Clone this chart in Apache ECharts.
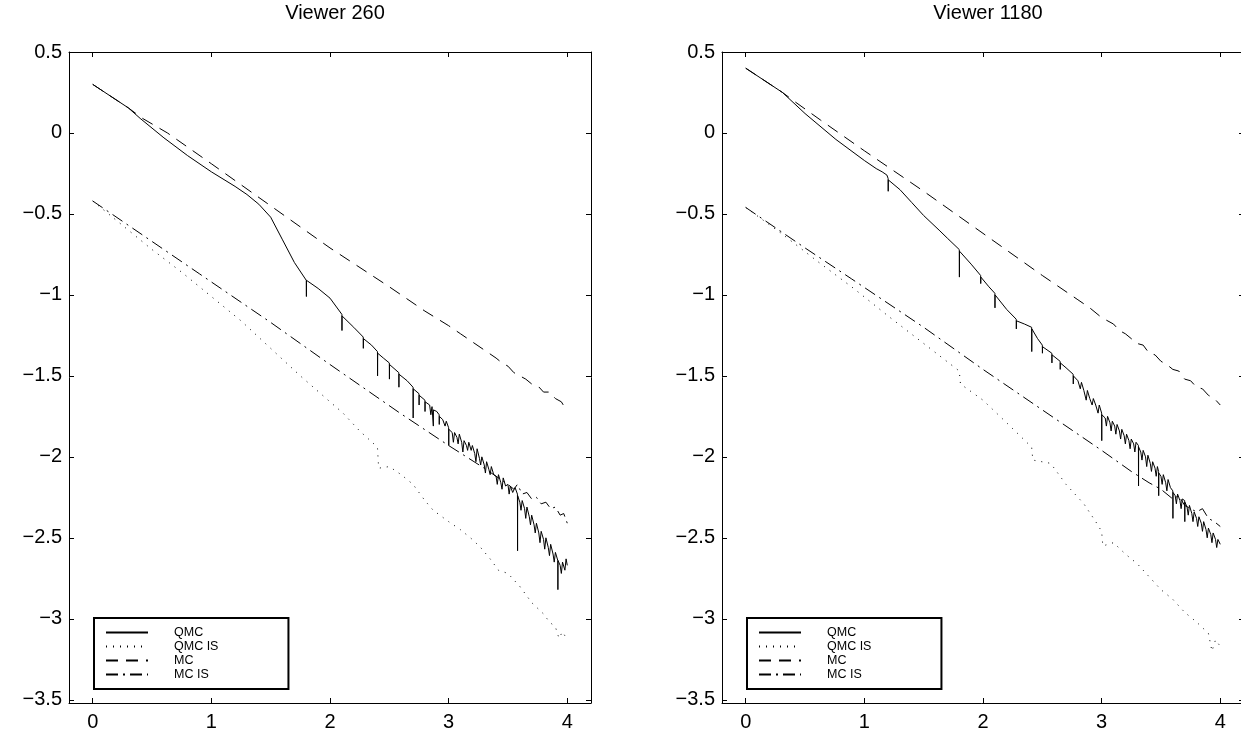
<!DOCTYPE html>
<html>
<head>
<meta charset="utf-8">
<title>Viewer 260 / Viewer 1180</title>
<script src="https://cdn.jsdelivr.net/npm/echarts@6.0.0/dist/echarts.min.js"></script>
<style>
  html, body { margin: 0; padding: 0; background: #fff; }
  #chart { width: 1241px; height: 735px; }
</style>
</head>
<body>
<div id="chart"></div>
<script>
// panel titles and tick labels
const panelTitles = ['Viewer 260', 'Viewer 1180']
const legendNames = ['QMC', 'QMC IS', 'MC', 'MC IS']
const xTicks = [0, 1, 2, 3, 4]
const yTicks = [0.5, 0, -0.5, -1, -1.5, -2, -2.5, -3, -3.5]

// left panel (viewer 260), [x, y]
const qmcLeft = [
  [0, 0.30], [0.3, 0.155], [0.4, 0.09], [0.5, 0.03], [0.6, -0.03], [0.8, -0.14], [1.0, -0.24],
  [1.2, -0.33], [1.3, -0.38], [1.4, -0.44], [1.5, -0.52], [1.6, -0.66], [1.7, -0.80],
  [1.8, -0.91], [1.801, -1.01], [1.802, -0.91], [1.9, -0.96], [2.0, -1.02],
  [2.1, -1.12], [2.101, -1.22], [2.102, -1.13], [2.2, -1.20],
  [2.28, -1.26], [2.281, -1.33], [2.282, -1.27], [2.35, -1.31],
  [2.4, -1.35], [2.401, -1.50], [2.402, -1.36], [2.45, -1.39],
  [2.5, -1.42], [2.501, -1.52], [2.502, -1.43], [2.58, -1.48], [2.581, -1.57], [2.582, -1.49],
  [2.65, -1.53], [2.7, -1.57], [2.701, -1.76], [2.702, -1.58], [2.75, -1.61], [2.751, -1.68], [2.752, -1.62],
  [2.8, -1.65], [2.801, -1.72], [2.802, -1.66], [2.84, -1.68], [2.85, -1.74], [2.86, -1.69],
  [2.87, -1.70], [2.871, -1.81], [2.872, -1.71], [2.9, -1.72], [2.92, -1.74], [2.921, -1.80], [2.922, -1.75],
  [2.95, -1.77], [2.97, -1.81], [2.98, -1.78], [3.0, -1.82], [3.001, -1.93], [3.002, -1.83],
  [3.03, -1.85], [3.04, -1.91], [3.05, -1.85], [3.07, -1.88], [3.08, -1.92], [3.09, -1.86],
  [3.11, -1.91], [3.12, -1.97], [3.13, -1.90], [3.15, -1.93], [3.16, -1.96], [3.17, -1.91],
  [3.19, -1.96], [3.2, -1.93], [3.22, -1.98], [3.23, -2.03], [3.24, -1.95], [3.26, -2.01],
  [3.27, -2.05], [3.28, -2.00], [3.3, -2.05], [3.31, -2.10], [3.32, -2.03], [3.34, -2.08],
  [3.35, -2.11], [3.36, -2.06], [3.38, -2.11], [3.4, -2.12], [3.41, -2.17], [3.42, -2.11],
  [3.44, -2.16], [3.45, -2.20], [3.46, -2.13], [3.48, -2.18], [3.5, -2.17], [3.51, -2.23],
  [3.52, -2.18], [3.54, -2.22], [3.56, -2.19], [3.58, -2.23], [3.581, -2.58], [3.582, -2.24],
  [3.6, -2.28], [3.61, -2.33], [3.62, -2.27], [3.64, -2.32], [3.65, -2.38], [3.66, -2.31],
  [3.68, -2.37], [3.69, -2.42], [3.7, -2.36], [3.72, -2.42], [3.73, -2.47], [3.74, -2.41],
  [3.76, -2.47], [3.77, -2.53], [3.78, -2.46], [3.8, -2.51], [3.81, -2.57], [3.82, -2.50],
  [3.84, -2.56], [3.85, -2.61], [3.86, -2.54], [3.88, -2.60], [3.89, -2.65], [3.9, -2.59],
  [3.92, -2.64], [3.921, -2.82], [3.922, -2.64], [3.94, -2.67], [3.95, -2.72], [3.96, -2.65],
  [3.98, -2.70], [3.99, -2.63], [4.0, -2.67]
]
const qmcIsLeft = [
  [0, -0.42], [0.25, -0.57], [0.5, -0.72], [0.75, -0.86], [1.0, -1.01], [1.25, -1.16],
  [1.5, -1.33], [1.75, -1.50], [2.0, -1.66], [2.11, -1.73], [2.25, -1.84], [2.4, -1.94],
  [2.41, -2.07], [2.5, -2.06], [2.6, -2.11], [2.7, -2.17], [2.8, -2.27], [2.87, -2.33],
  [3.0, -2.40], [3.1, -2.45], [3.2, -2.51], [3.27, -2.56], [3.35, -2.63], [3.42, -2.70],
  [3.5, -2.72], [3.6, -2.80], [3.7, -2.90], [3.8, -2.97], [3.85, -3.02], [3.9, -3.05],
  [3.93, -3.12], [3.96, -3.08], [4.0, -3.13]
]
const mcLeft = [
  [0, 0.30], [0.3, 0.155], [0.42, 0.09], [0.63, 0.0], [1.0, -0.19], [1.5, -0.45], [2.0, -0.71],
  [2.5, -0.95], [2.8, -1.10], [3.0, -1.19], [3.1, -1.24], [3.2, -1.29], [3.3, -1.34], [3.4, -1.39],
  [3.45, -1.42], [3.5, -1.44], [3.55, -1.48], [3.6, -1.50], [3.65, -1.52], [3.7, -1.55],
  [3.75, -1.56], [3.8, -1.60], [3.85, -1.60], [3.9, -1.64], [3.95, -1.66], [4.0, -1.72]
]
const mcIsLeft = [
  [0, -0.42], [0.5, -0.67], [0.9, -0.87], [1.5, -1.17], [2.0, -1.43], [2.59, -1.73], [3.0, -1.93],
  [3.3, -2.07], [3.5, -2.17], [3.55, -2.20], [3.58, -2.17], [3.62, -2.23], [3.66, -2.22],
  [3.7, -2.26], [3.74, -2.25], [3.78, -2.29], [3.82, -2.28], [3.86, -2.32], [3.9, -2.31],
  [3.94, -2.36], [3.97, -2.35], [4.0, -2.41]
]

// right panel (viewer 1180)
const qmcRight = [
  [0, 0.40], [0.31, 0.25], [0.5, 0.12], [0.76, -0.04], [1.0, -0.17], [1.1, -0.22], [1.15, -0.24],
  [1.19, -0.26], [1.2, -0.28], [1.201, -0.36], [1.202, -0.29], [1.3, -0.35],
  [1.4, -0.43], [1.5, -0.51], [1.63, -0.60], [1.7, -0.65], [1.8, -0.72], [1.801, -0.89], [1.802, -0.73],
  [1.9, -0.81], [1.98, -0.88], [1.981, -0.93], [1.982, -0.89], [2.05, -0.95],
  [2.1, -0.99], [2.101, -1.08], [2.102, -1.00], [2.2, -1.09], [2.28, -1.15], [2.281, -1.21], [2.282, -1.16],
  [2.35, -1.18], [2.41, -1.20], [2.411, -1.35], [2.412, -1.21], [2.46, -1.27],
  [2.5, -1.31], [2.501, -1.36], [2.502, -1.32], [2.58, -1.36], [2.581, -1.42], [2.582, -1.37],
  [2.65, -1.41], [2.651, -1.46], [2.652, -1.42], [2.7, -1.45], [2.76, -1.49], [2.761, -1.55], [2.762, -1.50],
  [2.8, -1.53], [2.82, -1.58], [2.83, -1.54], [2.85, -1.59], [2.87, -1.65], [2.88, -1.59],
  [2.9, -1.64], [2.92, -1.68], [2.93, -1.64], [2.95, -1.68], [2.97, -1.73], [2.98, -1.68],
  [3.0, -1.73], [3.001, -1.90], [3.002, -1.74], [3.03, -1.76], [3.04, -1.81], [3.05, -1.75],
  [3.07, -1.79], [3.08, -1.84], [3.09, -1.78], [3.11, -1.81], [3.12, -1.86], [3.13, -1.80],
  [3.15, -1.84], [3.16, -1.89], [3.17, -1.83], [3.19, -1.87], [3.2, -1.92], [3.21, -1.86],
  [3.23, -1.90], [3.24, -1.95], [3.25, -1.89], [3.27, -1.92], [3.28, -1.97], [3.29, -1.91],
  [3.31, -1.93], [3.311, -2.18], [3.312, -1.94], [3.33, -1.97], [3.34, -2.02], [3.35, -1.96],
  [3.37, -2.00], [3.38, -2.06], [3.39, -1.99], [3.41, -2.04], [3.42, -2.09], [3.43, -2.03],
  [3.45, -2.07], [3.46, -2.12], [3.47, -2.06], [3.48, -2.09], [3.481, -2.24], [3.482, -2.10],
  [3.5, -2.12], [3.51, -2.17], [3.52, -2.11], [3.54, -2.16], [3.55, -2.21], [3.56, -2.14],
  [3.58, -2.19], [3.6, -2.21], [3.601, -2.38], [3.602, -2.22], [3.62, -2.24], [3.63, -2.29],
  [3.64, -2.23], [3.66, -2.27], [3.67, -2.32], [3.68, -2.26], [3.7, -2.27], [3.701, -2.40], [3.702, -2.28],
  [3.72, -2.31], [3.73, -2.36], [3.74, -2.30], [3.76, -2.35], [3.77, -2.40], [3.78, -2.34],
  [3.8, -2.38], [3.81, -2.43], [3.82, -2.37], [3.84, -2.41], [3.85, -2.46], [3.86, -2.40],
  [3.88, -2.45], [3.89, -2.50], [3.9, -2.44], [3.92, -2.48], [3.93, -2.53], [3.94, -2.47],
  [3.96, -2.51], [3.97, -2.56], [3.98, -2.51], [4.0, -2.54]
]
const qmcIsRight = [
  [0, -0.46], [0.3, -0.62], [0.6, -0.79], [0.91, -0.96], [1.2, -1.13], [1.5, -1.30], [1.8, -1.47],
  [1.81, -1.55], [2.0, -1.65], [2.2, -1.79], [2.41, -1.94], [2.42, -2.02], [2.57, -2.04],
  [2.7, -2.17], [2.85, -2.29], [2.95, -2.40], [3.0, -2.46], [3.01, -2.55], [3.1, -2.53],
  [3.2, -2.60], [3.3, -2.66], [3.4, -2.74], [3.5, -2.82], [3.6, -2.88], [3.7, -2.96],
  [3.8, -3.02], [3.9, -3.09], [3.93, -3.20], [3.96, -3.13], [4.0, -3.17]
]
const mcRight = [
  [0, 0.40], [0.31, 0.25], [0.42, 0.19], [0.63, 0.08], [1.0, -0.11], [1.5, -0.36], [2.0, -0.62],
  [2.5, -0.88], [2.8, -1.03], [2.9, -1.08], [3.0, -1.14], [3.1, -1.18], [3.15, -1.22], [3.2, -1.24],
  [3.3, -1.30], [3.35, -1.31], [3.4, -1.36], [3.45, -1.37], [3.5, -1.41], [3.55, -1.43],
  [3.6, -1.46], [3.65, -1.47], [3.7, -1.52], [3.75, -1.53], [3.8, -1.57], [3.85, -1.58],
  [3.9, -1.62], [3.95, -1.64], [4.0, -1.68]
]
const mcIsRight = [
  [0, -0.46], [0.5, -0.71], [0.89, -0.90], [1.5, -1.20], [2.0, -1.46], [2.5, -1.71], [3.0, -1.96],
  [3.25, -2.09], [3.4, -2.16], [3.5, -2.20], [3.6, -2.26], [3.65, -2.24], [3.7, -2.30],
  [3.8, -2.34], [3.85, -2.32], [3.9, -2.38], [3.95, -2.40], [4.0, -2.43]
]

const panelData = [
  [qmcLeft, qmcIsLeft, mcLeft, mcIsLeft],
  [qmcRight, qmcIsRight, mcRight, mcIsRight]
]

const FONT = '"Liberation Sans", Arial, Helvetica, sans-serif'
const lineTypes = ['solid', [1, 6], [12, 8], [12, 5, 2, 5]]
const panelLeft = [69, 722]
const gridW = 522
const gridTop = 52
const gridH = 651

const minus = (v) => String(v).replace('-', '\u2212')

function axisBase(extra) {
  return Object.assign({
    axisLine: { show: true, onZero: false, lineStyle: { color: '#000', width: 1 } },
    splitLine: { show: false }
  }, extra)
}

function ticks(values) {
  return { show: true, inside: true, length: 5, customValues: values, lineStyle: { color: '#000' } }
}

const grids = []
const xAxes = []
const yAxes = []
const titles = []
const legends = []
const series = []

panelLeft.forEach((left, p) => {
  grids.push({ left, top: gridTop, width: gridW, height: gridH, outerBoundsMode: 'none' })

  const xCommon = { type: 'value', gridIndex: p, min: -0.2, max: 4.2 }
  const yCommon = { type: 'value', gridIndex: p, min: -3.52, max: 0.5 }

  xAxes.push(axisBase(Object.assign({}, xCommon, {
    position: 'bottom',
    axisTick: ticks(xTicks),
    axisLabel: { customValues: xTicks, color: '#000', fontSize: 20, fontFamily: FONT, margin: 9 }
  })))
  xAxes.push(axisBase(Object.assign({}, xCommon, {
    position: 'top',
    axisTick: ticks(xTicks),
    axisLabel: { show: false }
  })))
  yAxes.push(axisBase(Object.assign({}, yCommon, {
    position: 'left',
    axisTick: ticks(yTicks),
    axisLabel: { customValues: yTicks, color: '#000', fontSize: 20, fontFamily: FONT, margin: 7, formatter: minus }
  })))
  yAxes.push(axisBase(Object.assign({}, yCommon, {
    position: 'right',
    axisTick: ticks(yTicks),
    axisLabel: { show: false }
  })))

  titles.push({
    text: panelTitles[p],
    left: left + gridW / 2,
    textAlign: 'center',
    top: -2,
    textStyle: { color: '#000', fontSize: 20, fontWeight: 'normal', fontFamily: FONT }
  })

  legends.push({
    data: legendNames,
    orient: 'vertical',
    left: left + 25,
    top: 618,
    selectedMode: false,
    itemWidth: 42,
    itemHeight: 14,
    itemGap: 1,
    padding: [8, 70, 8, 11],
    borderColor: '#000',
    borderWidth: 2,
    backgroundColor: '#fff',
    itemStyle: { opacity: 0, borderWidth: 0 },
    textStyle: { color: '#000', fontSize: 12.5, fontFamily: FONT, padding: [0, 0, 0, 21] }
  })

  panelData[p].forEach((data, k) => {
    series.push({
      name: legendNames[k],
      type: 'line',
      xAxisIndex: p * 2,
      yAxisIndex: p * 2,
      data,
      symbol: 'none',
      showSymbol: false,
      lineStyle: { color: '#000', width: 1, type: lineTypes[k] },
      itemStyle: { color: '#000' },
      z: 2
    })
  })
})

const chart = echarts.init(document.getElementById('chart'))
chart.setOption({
  animation: false,
  backgroundColor: '#fff',
  title: titles,
  legend: legends,
  grid: grids,
  xAxis: xAxes,
  yAxis: yAxes,
  series
})
</script>
</body>
</html>
